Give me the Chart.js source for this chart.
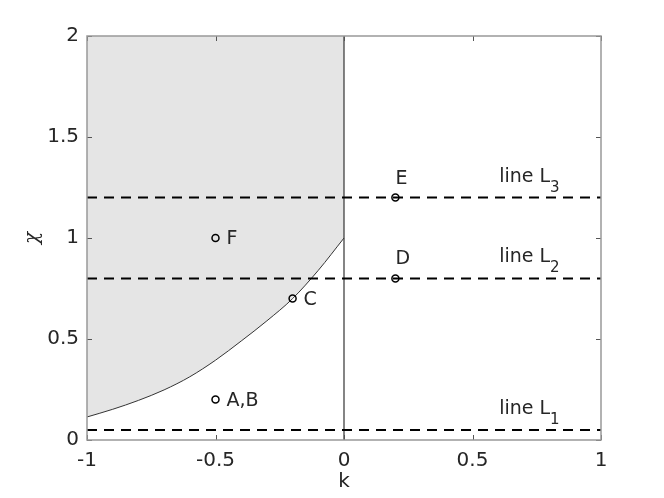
<!DOCTYPE html>
<html>
<head>
<meta charset="utf-8">
<script src="https://cdn.jsdelivr.net/npm/chart.js@4"></script>
<style>
  html, body { margin: 0; padding: 0; background: #fff; }
  #wrap { width: 664px; height: 498px; }
</style>
</head>
<body>
<div id="wrap"><canvas id="chart"></canvas></div>
<script>
// boundary curve chi(k)
const kCurve = [-1, -0.9, -0.8, -0.7, -0.6, -0.5, -0.4, -0.3, -0.2, -0.1, 0];
const chiCurve = [0.114, 0.152, 0.196, 0.248, 0.313, 0.395, 0.49, 0.59, 0.70, 0.84, 1.0];

// horizontal dashed lines L1, L2, L3
const lineLevels = [0.05, 0.8, 1.2];
const lineNames = ['1', '2', '3'];

// marked points
const pointK = [-0.5, -0.2, -0.5, 0.2, 0.2];
const pointChi = [0.2, 0.7, 1.0, 0.8, 1.2];
const pointNames = ['A,B', 'C', 'F', 'D', 'E'];

const xTicks = [-1, -0.5, 0, 0.5, 1];
const yTicks = [0, 0.5, 1, 1.5, 2];

const textColor = '#262626';
const boxColor = '#999999';
const font = 'DejaVu Sans';

const dashed = lineLevels.map((v) => ({
  type: 'line',
  data: [{ x: -1, y: v }, { x: 1, y: v }],
  borderColor: '#000',
  borderWidth: 2,
  borderDash: [10, 7],
  pointRadius: 0,
  fill: false
}));

const boxPlugin = {
  id: 'box',
  afterDatasetsDraw(chart) {
    const { ctx, chartArea: a, scales: { x, y } } = chart;
    ctx.save();
    ctx.strokeStyle = '#555';
    ctx.lineWidth = 1;
    ctx.beginPath();
    xTicks.forEach((t) => {
      const px = Math.round(x.getPixelForValue(t)) + 0.5;
      ctx.moveTo(px, a.bottom); ctx.lineTo(px, a.bottom - 5);
      ctx.moveTo(px, a.top); ctx.lineTo(px, a.top + 5);
    });
    yTicks.forEach((t) => {
      const py = Math.round(y.getPixelForValue(t)) + 0.5;
      ctx.moveTo(a.left, py); ctx.lineTo(a.left + 5, py);
      ctx.moveTo(a.right, py); ctx.lineTo(a.right - 5, py);
    });
    ctx.stroke();
    ctx.strokeStyle = boxColor;
    ctx.lineWidth = 1.5;
    ctx.strokeRect(a.left, a.top, a.right - a.left, a.bottom - a.top);

    // point labels
    ctx.fillStyle = textColor;
    ctx.font = '19px "' + font + '"';
    ctx.textBaseline = 'middle';
    ctx.textAlign = 'left';
    pointNames.forEach((name, i) => {
      const px = x.getPixelForValue(pointK[i]);
      const py = y.getPixelForValue(pointChi[i]);
      if (pointK[i] > 0) {
        ctx.fillText(name, px, py - 19);
      } else {
        ctx.fillText(name, px + 11, py + 1);
      }
    });

    // line labels with subscripts
    ctx.textBaseline = 'alphabetic';
    lineLevels.forEach((v, i) => {
      const px = x.getPixelForValue(0.6) + 1;
      const py = y.getPixelForValue(v) - 16;
      ctx.font = '19px "' + font + '"';
      ctx.fillText('line L', px, py);
      const w = ctx.measureText('line L').width;
      ctx.font = '15px "' + font + '"';
      ctx.fillText(lineNames[i], px + w, py + 10);
    });
    ctx.restore();
  }
};

new Chart(document.getElementById('chart'), {
  type: 'scatter',
  data: {
    datasets: [
      ...dashed,
      {
        type: 'scatter',
        data: pointK.map((k, i) => ({ x: k, y: pointChi[i] })),
        pointRadius: 3.5,
        pointBorderWidth: 1.5,
        pointBorderColor: '#000',
        pointBackgroundColor: 'rgba(255,255,255,0)'
      },
      {
        type: 'line',
        data: [{ x: 0, y: 0 }, { x: 0, y: 2 }],
        borderColor: '#333',
        borderWidth: 1.2,
        pointRadius: 0,
        fill: false
      },
      {
        type: 'line',
        data: kCurve.map((k, i) => ({ x: k, y: chiCurve[i] })),
        borderColor: '#333',
        borderWidth: 1,
        cubicInterpolationMode: 'monotone',
        pointRadius: 0,
        fill: 'end',
        backgroundColor: '#e5e5e5'
      }
    ]
  },
  options: {
    responsive: true,
    maintainAspectRatio: false,
    animation: false,
    layout: { padding: { top: 36, right: 63, left: 0, bottom: 0 } },
    plugins: {
      legend: { display: false },
      tooltip: { enabled: false }
    },
    scales: {
      x: {
        type: 'linear',
        min: -1,
        max: 1,
        afterFit: (s) => { s.height = 58; },
        afterBuildTicks: (s) => { s.ticks = xTicks.map((v) => ({ value: v })); },
        grid: { drawOnChartArea: false, drawTicks: false },
        border: { display: false },
        ticks: {
          color: textColor,
          padding: 9,
          font: { family: font, size: 20 },
          callback: (v) => String(v)
        },
        title: {
          display: true,
          text: 'k',
          color: textColor,
          padding: { top: 0, bottom: 4 },
          font: { family: font, size: 20 }
        }
      },
      y: {
        type: 'linear',
        min: 0,
        max: 2,
        afterFit: (s) => { s.width = 87; },
        afterBuildTicks: (s) => { s.ticks = yTicks.map((v) => ({ value: v })); },
        grid: { drawOnChartArea: false, drawTicks: false },
        border: { display: false },
        ticks: {
          color: textColor,
          padding: 8,
          font: { family: font, size: 20 },
          callback: (v) => String(v)
        },
        title: {
          display: true,
          text: 'χ',
          color: textColor,
          padding: { top: 21, bottom: 0 },
          font: { family: 'DejaVu Serif', size: 20, style: 'italic' }
        }
      }
    }
  },
  plugins: [boxPlugin]
});
</script>
</body>
</html>
